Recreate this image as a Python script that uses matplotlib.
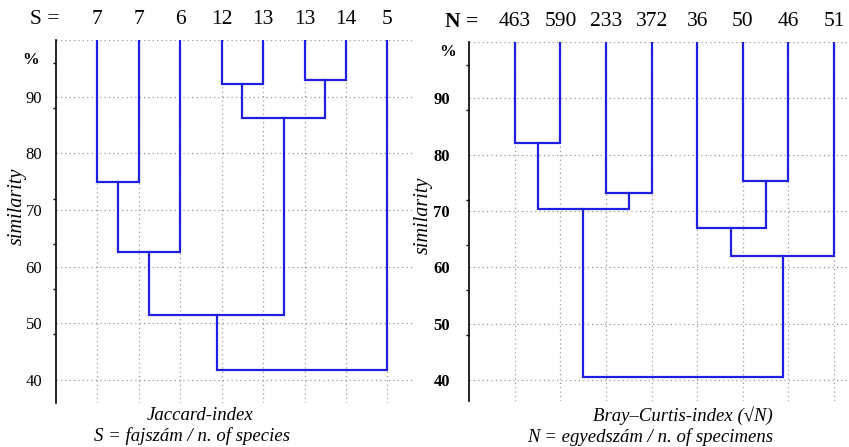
import matplotlib.pyplot as plt
from matplotlib.ticker import FixedLocator

# leaf labels (top of each dendrogram)
jac_counts = ['7', '7', '6', '12', '13', '13', '14', '5']
bc_counts = ['463', '590', '233', '372', '36', '50', '46', '51']

# merges: child a, child b, similarity (%). leaves are 0..7, new clusters 8, 9, ...
jac_a = [0, 8, 3, 5, 10, 9, 13]
jac_b = [1, 2, 4, 6, 11, 12, 7]
jac_h = [75.0, 62.5, 92.3, 92.9, 86.2, 51.5, 41.8]

bc_a = [0, 2, 8, 5, 4, 12, 10]
bc_b = [1, 3, 9, 6, 11, 7, 13]
bc_h = [82.0, 73.3, 70.4, 75.3, 67.0, 62.0, 40.5]

y_labels = [40, 50, 60, 70, 80, 90]
leaf_top = 100

plt.rcParams['font.family'] = ['Liberation Serif', 'DejaVu Serif']
LINE = '#1f1fe0'
GRID = '#9a9a9a'


def dendro(ax, n, ma, mb, mh):
    xs = [i + 1 for i in range(n)]
    hs = [leaf_top] * n
    for a, b, h in zip(ma, mb, mh):
        ax.plot([xs[a], xs[a], xs[b], xs[b]], [hs[a], h, h, hs[b]],
                color=LINE, lw=1.6, solid_joinstyle='miter', zorder=3)
        xs.append((xs[a] + xs[b]) / 2)
        hs.append(h)


def setup(ax, n, xmax, ymin, bold):
    ax.set_xlim(0, xmax)
    ax.set_ylim(ymin, leaf_top)
    ax.set_xticks(range(1, n + 1))
    ax.set_xticklabels([])
    ax.tick_params(axis='x', length=0)
    ax.set_yticks(y_labels + [100])
    ax.set_yticklabels([str(v) for v in y_labels] + [''],
                       fontsize=12, fontweight='bold' if bold else 'normal')
    ax.tick_params(axis='y', length=0, pad=10 if not bold else 14)
    ax.yaxis.set_minor_locator(FixedLocator(list(range(40, 100, 8))))
    ax.tick_params(axis='y', which='minor', length=2, width=1)
    for s in ['top', 'right', 'bottom']:
        ax.spines[s].set_visible(False)
    ax.spines['left'].set_linewidth(1.2)
    ax.grid(True, color=GRID, linestyle=(0, (1, 2.5)), lw=0.9)
    ax.set_axisbelow(True)


fig = plt.figure(figsize=(8.49, 4.47), dpi=100)
ax1 = fig.add_axes([0.066, 0.0984, 0.4205, 0.812])
ax2 = fig.add_axes([0.5528, 0.1029, 0.4472, 0.803])

setup(ax1, 8, 8.62, 35.9, False)
setup(ax2, 8, 8.33, 36.3, True)
dendro(ax1, 8, jac_a, jac_b, jac_h)
dendro(ax2, 8, bc_a, bc_b, bc_h)

# leaf counts above the plots
for i, c in enumerate(jac_counts):
    fig.text(ax1.transData.transform((i + 1, 0))[0] / fig.dpi / 8.49, 1 - 19 / 447, c,
             ha='center', va='center', fontsize=15.5)
fig.text(45 / 849, 1 - 19 / 447, 'S =', ha='center', va='center', fontsize=15.5)
for i, c in enumerate(bc_counts):
    fig.text(ax2.transData.transform((i + 1, 0))[0] / fig.dpi / 8.49, 1 - 22 / 447, c,
             ha='center', va='center', fontsize=15.5)
fig.text(462 / 849, 1 - 22 / 447, 'N =', ha='center', va='center', fontsize=15.5,
         fontweight='bold')

# % markers
ax1.text(-0.62, 96.5, '%', ha='center', va='center', fontsize=12, fontweight='bold')
ax2.text(-0.48, 98.2, '%', ha='center', va='center', fontsize=12, fontweight='bold')

# y labels
fig.text(17 / 849, 1 - 206 / 447, 'similarity', rotation=90, ha='center', va='center',
         fontsize=14.5, style='italic')
fig.text(423 / 849, 1 - 215 / 447, 'similarity', rotation=90, ha='center', va='center',
         fontsize=14.5, style='italic')

# bottom captions
fig.text(200 / 849, 1 - 416 / 447, 'Jaccard-index', ha='center', va='center',
         fontsize=13.5, style='italic')
fig.text(192 / 849, 1 - 436 / 447, 'S = fajszám / n. of species', ha='center',
         va='center', fontsize=13.5, style='italic')
fig.text(773 / 849, 1 - 416 / 447, 'Bray\u2013Curtis-index (\u221aN)', ha='right',
         va='center', fontsize=13.5, style='italic')
fig.text(773 / 849, 1 - 437 / 447, 'N = egyedszám / n. of specimens', ha='right',
         va='center', fontsize=13.5, style='italic')

fig.savefig('out.png', dpi=100)
